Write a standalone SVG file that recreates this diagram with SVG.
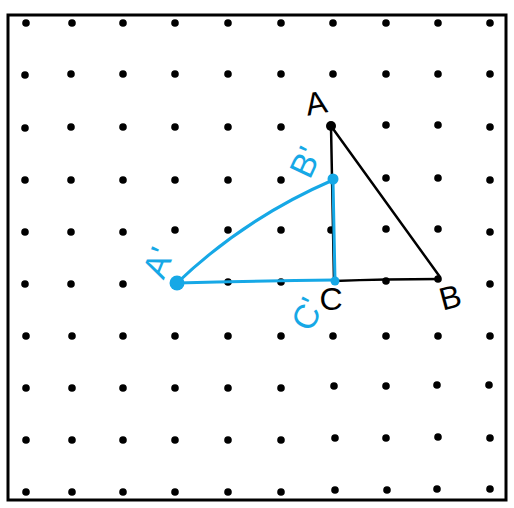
<svg xmlns="http://www.w3.org/2000/svg" width="514" height="508" viewBox="0 0 514 508">
<defs>
<style>
.dot{fill:#000}
.blk{stroke:#000;stroke-width:2.5;fill:none;stroke-linecap:round}
.blu{stroke:#16a8e6;stroke-width:3;fill:none;stroke-linecap:round}
.lb{font-family:"Liberation Sans",sans-serif;font-size:32px}
.lk{fill:#000}
.lu{fill:#16a8e6;font-size:34px}
</style>
<g id="d"><circle r="3.8" class="dot"/></g>
</defs>
<rect x="0" y="0" width="514" height="508" fill="#fff"/>
<rect id="border" x="8" y="15" width="498" height="485" fill="none" stroke="#000" stroke-width="3"/>
<g id="grid">
<use href="#d" x="26" y="23"/><use href="#d" x="72" y="23"/><use href="#d" x="123" y="23"/><use href="#d" x="175" y="23"/><use href="#d" x="228" y="23"/><use href="#d" x="281" y="23"/><use href="#d" x="333" y="23"/><use href="#d" x="386" y="23"/><use href="#d" x="438" y="23"/><use href="#d" x="490" y="23"/>
<use href="#d" x="25" y="75"/><use href="#d" x="71" y="74"/><use href="#d" x="123" y="74"/><use href="#d" x="175" y="74"/><use href="#d" x="228" y="74"/><use href="#d" x="281" y="74"/><use href="#d" x="333" y="74"/><use href="#d" x="386" y="74"/><use href="#d" x="438" y="74"/><use href="#d" x="490" y="74"/>
<use href="#d" x="25" y="128"/><use href="#d" x="71" y="127"/><use href="#d" x="123" y="127"/><use href="#d" x="175" y="127"/><use href="#d" x="228" y="127"/><use href="#d" x="281" y="127"/><use href="#d" x="386" y="125"/><use href="#d" x="438" y="125"/><use href="#d" x="490" y="127"/>
<use href="#d" x="25" y="180"/><use href="#d" x="71" y="180"/><use href="#d" x="123" y="180"/><use href="#d" x="175" y="180"/><use href="#d" x="228" y="180"/><use href="#d" x="281" y="180"/><use href="#d" x="386" y="178"/><use href="#d" x="438" y="178"/><use href="#d" x="490" y="180"/>
<use href="#d" x="25" y="232"/><use href="#d" x="71" y="232"/><use href="#d" x="123" y="232"/><use href="#d" x="175" y="230"/><use href="#d" x="228" y="230"/><use href="#d" x="281" y="230"/><use href="#d" x="331" y="230"/><use href="#d" x="386" y="229"/><use href="#d" x="438" y="229"/><use href="#d" x="490" y="232"/>
<use href="#d" x="25" y="284"/><use href="#d" x="71" y="284"/><use href="#d" x="123" y="284"/><use href="#d" x="228" y="282"/><use href="#d" x="281" y="282"/><use href="#d" x="386" y="281"/><use href="#d" x="490" y="284"/>
<use href="#d" x="26" y="336"/><use href="#d" x="72" y="336"/><use href="#d" x="123" y="336"/><use href="#d" x="175" y="336"/><use href="#d" x="228" y="336"/><use href="#d" x="281" y="336"/><use href="#d" x="333" y="336"/><use href="#d" x="386" y="336"/><use href="#d" x="438" y="336"/><use href="#d" x="490" y="336"/>
<use href="#d" x="26" y="388"/><use href="#d" x="72" y="388"/><use href="#d" x="123" y="388"/><use href="#d" x="175" y="388"/><use href="#d" x="228" y="388"/><use href="#d" x="281" y="388"/><use href="#d" x="334" y="386"/><use href="#d" x="386" y="386"/><use href="#d" x="437" y="385"/><use href="#d" x="489" y="385"/>
<use href="#d" x="26" y="440"/><use href="#d" x="72" y="440"/><use href="#d" x="123" y="440"/><use href="#d" x="175" y="440"/><use href="#d" x="228" y="440"/><use href="#d" x="281" y="440"/><use href="#d" x="335" y="438"/><use href="#d" x="386" y="438"/><use href="#d" x="438" y="437"/><use href="#d" x="490" y="438"/>
<use href="#d" x="26" y="492"/><use href="#d" x="72" y="492"/><use href="#d" x="123" y="492"/><use href="#d" x="175" y="492"/><use href="#d" x="228" y="492"/><use href="#d" x="281" y="492"/><use href="#d" x="335" y="490"/><use href="#d" x="387" y="490"/><use href="#d" x="437" y="489"/><use href="#d" x="490" y="489"/>
</g>
<g id="connectors">
<path class="blk" d="M331 126 L334 281"/>
<path class="blk" d="M331 126 L440 277"/>
<path class="blk" d="M334 281 Q385 279 440 279"/>
<path class="blu" d="M177 283 Q245 218 333 180"/>
<path class="blu" d="M177 283 Q260 281 335 280"/>
<path class="blu" d="M333 180 L335 281"/>
</g>
<g id="A"><circle cx="331" cy="126" r="5" fill="#000"/><text class="lb lk" transform="translate(318,114) rotate(-10)" text-anchor="middle">A</text></g>
<g id="B"><circle cx="438" cy="279" r="3.8" fill="#000"/><text class="lb lk" transform="translate(453,308) rotate(-15)" text-anchor="middle">B</text></g>
<g id="C"><text class="lb lk" transform="translate(331,310)" text-anchor="middle">C</text></g>
<g id="A1"><circle cx="177" cy="283" r="7.5" fill="#16a8e6"/><text class="lb lu" transform="translate(169,267) rotate(-68)" text-anchor="middle">A'</text></g>
<g id="B1"><circle cx="333" cy="179" r="5.5" fill="#16a8e6"/><text class="lb lu" transform="translate(316,167) rotate(-65)" text-anchor="middle">B'</text></g>
<g id="C1"><circle cx="335" cy="281" r="4.5" fill="#16a8e6"/><text class="lb lu" transform="translate(318,319) rotate(-65)" text-anchor="middle">C'</text></g>
</svg>
